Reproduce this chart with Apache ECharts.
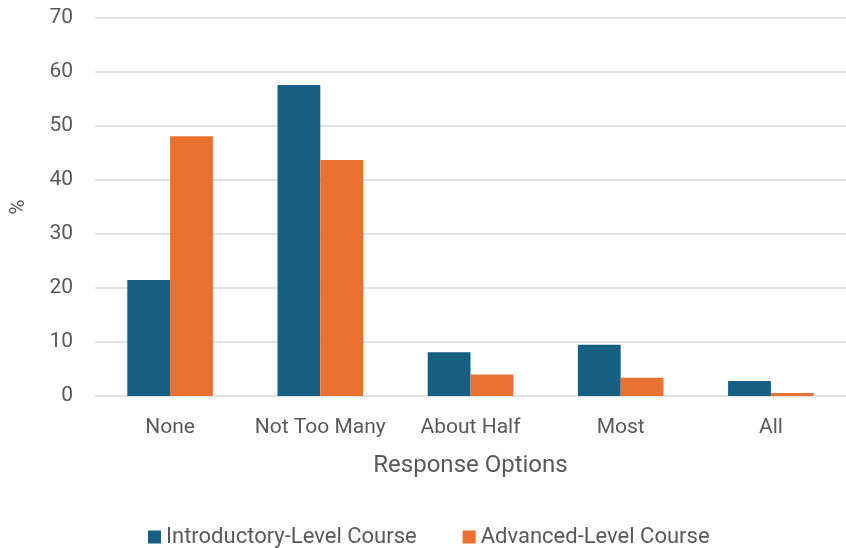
<!DOCTYPE html>
<html>
<head>
<meta charset="utf-8">
<script src="https://cdn.jsdelivr.net/npm/echarts@6/dist/echarts.min.js"></script>
<style>
  html, body { margin: 0; padding: 0; background: #fff; }
  #container { width: 846px; height: 548px; }
</style>
</head>
<body>
<div id="container"></div>
<script>
// 数据
var categories = ["None", "Not Too Many", "About Half", "Most", "All"];
var introValues = [21.5, 57.6, 8.1, 9.5, 2.8];
var advancedValues = [48.1, 43.7, 4.0, 3.4, 0.55];
var yTicks = [0, 10, 20, 30, 40, 50, 60, 70];

var textColor = "#595959";
var font = "Roboto";

var dom = document.getElementById("container");
var myChart = echarts.init(dom);
var option = {
    animation: false,
    textStyle: { fontFamily: font },
    grid: {
        left: 91,
        right: -4,
        top: 18,
        bottom: 152
    },
    legend: {
        bottom: -5,
        left: 143,
        itemWidth: 13,
        itemHeight: 13,
        itemGap: 46,
        itemTextGap: 5,
        icon: 'rect',
        textStyle: { color: textColor, fontSize: 22, fontFamily: font },
        data: ["Introductory-Level Course", "Advanced-Level Course"]
    },
    xAxis: {
        type: 'category',
        data: categories,
        name: "Response Options",
        nameLocation: 'middle',
        nameGap: 58,
        nameTextStyle: { color: textColor, fontSize: 24, fontFamily: font },
        axisLine: { show: false },
        axisTick: { show: false },
        axisLabel: { color: textColor, fontSize: 21, margin: 21, interval: 0, fontFamily: font }
    },
    yAxis: {
        type: 'value',
        min: yTicks[0],
        max: yTicks[yTicks.length - 1],
        interval: 10,
        name: "%",
        nameLocation: 'middle',
        nameGap: 66,
        nameRotate: 90,
        nameTextStyle: { color: textColor, fontSize: 21, fontFamily: font },
        axisLabel: { color: textColor, fontSize: 21, margin: 22, fontFamily: font },
        splitLine: { lineStyle: { color: '#d9d9d9', width: 1.5 } }
    },
    series: [
        {
            name: "Introductory-Level Course",
            type: 'bar',
            data: introValues,
            barGap: '0%',
            barCategoryGap: '43%',
            itemStyle: { color: '#156082' }
        },
        {
            name: "Advanced-Level Course",
            type: 'bar',
            data: advancedValues,
            itemStyle: { color: '#E97132' }
        }
    ]
};
myChart.setOption(option);
</script>
</body>
</html>
